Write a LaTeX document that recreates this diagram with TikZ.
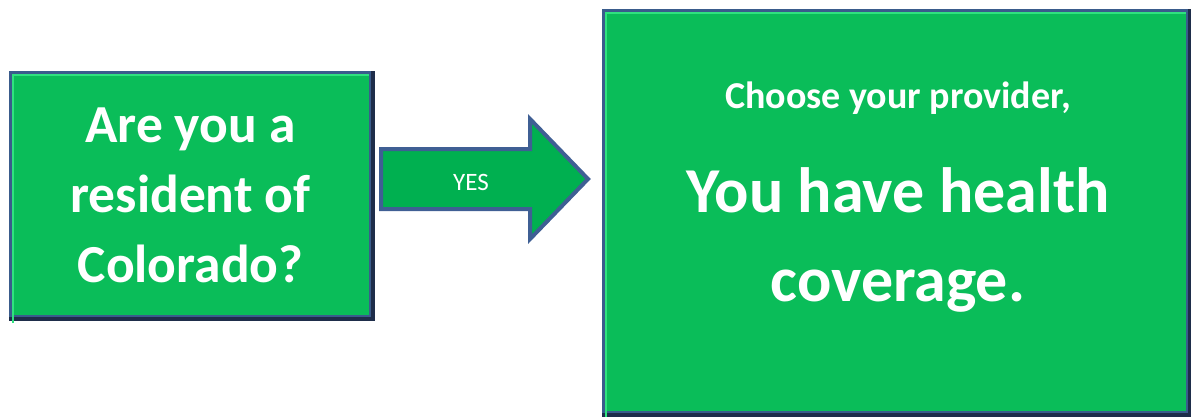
\documentclass[tikz,border=0pt]{standalone}
\usepackage{fontspec}
\setmainfont{Carlito}
\usetikzlibrary{shapes.arrows}

\definecolor{boxgreen}{HTML}{0ABD59}
\definecolor{arrowgreen}{HTML}{00B050}
\definecolor{rimblue}{HTML}{3A5C8C}
\definecolor{rimdark}{HTML}{1E2D4A}
\definecolor{arrowrim}{HTML}{3F5F94}
\definecolor{bevellight}{HTML}{2FE27F}

\tikzset{
    greenbox/.style={
        rectangle,
        fill=boxgreen,
        draw=rimblue,
        line width=4pt,
        inner sep=0pt,
        },
    darkrim/.style={
        draw=rimdark,
        line width=4pt,
        },
    lightrim/.style={
        draw=bevellight,
        line width=2pt,
        },
    bigtext/.style={
        text=white,
        font=\bfseries,
        align=center,
        inner sep=0pt,
        },
}

\begin{document}
\begin{tikzpicture}[x=1pt, y=1pt]

% Fixes the page size
\useasboundingbox (0,0) rectangle (1191,-416);

% Question box
\node[
    greenbox,
    minimum width=360pt,
    minimum height=244pt,
    ] 
    (question) at (190.5,-195) {};
\draw[darkrim] (question.north east) -- (question.south east) -- (question.south west);
\draw[lightrim] ([shift={(4,-4)}]question.south west) -- ([shift={(4,-4)}]question.north west) -- ([shift={(-4,-4)}]question.north east);

% Answer box
\node[
    greenbox,
    minimum width=584pt,
    minimum height=402pt,
    ] 
    (answer) at (896,-212) {};
\draw[darkrim] (answer.north east) -- (answer.south east) -- (answer.south west);
\draw[lightrim] ([shift={(4,-4)}]answer.south west) -- ([shift={(4,-4)}]answer.north west) -- ([shift={(-4,-4)}]answer.north east);

% Arrow between them
\node[
    single arrow,
    fill=arrowgreen,
    draw=arrowrim,
    line width=4pt,
    minimum height=207pt,
    inner xsep=0pt,
    inner ysep=28pt,
    single arrow head extend=30pt,
    single arrow tip angle=92,
    outer sep=0pt,
    anchor=tip,
    ] 
    (yesarrow) at (588,-179) {};

% Texts
\node[bigtext, font=\bfseries\fontsize{53.5}{70}\selectfont] (questiontext) at (question) {Are you a\\resident of\\Colorado?};
\node[text=white, font=\fontsize{25}{30}\selectfont, inner sep=0pt] (yestext) at (471,-182) {YES};
\node[bigtext, font=\bfseries\fontsize{38}{44}\selectfont] (choosetext) at (898,-98) {Choose your provider,};
\node[bigtext, font=\bfseries\fontsize{64}{89}\selectfont] (coveragetext) at (898,-240) {You have health\\coverage.};

\end{tikzpicture}
\end{document}
